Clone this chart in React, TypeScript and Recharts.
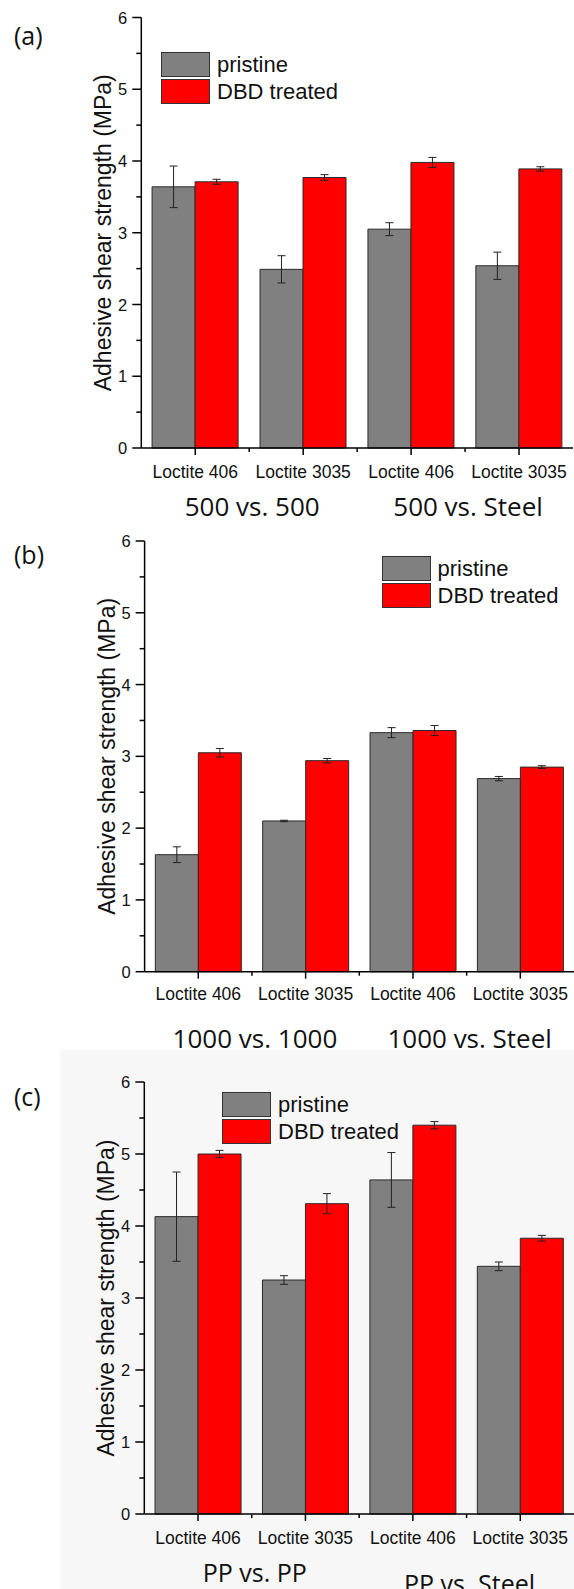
import React from "react";
import { BarChart, Bar, XAxis, YAxis, ErrorBar, Legend } from "recharts";

const categories = ["Loctite 406", "Loctite 3035", "Loctite 406", "Loctite 3035"];
const yTicks = [0, 0.5, 1, 1.5, 2, 2.5, 3, 3.5, 4, 4.5, 5, 5.5, 6];

// (a)
const groupsA = ["500 vs. 500", "500 vs. Steel"];
const pristineA = [3.64, 2.49, 3.05, 2.54];
const pristineErrA = [0.29, 0.19, 0.09, 0.19];
const treatedA = [3.71, 3.77, 3.98, 3.89];
const treatedErrA = [0.035, 0.04, 0.07, 0.03];

// (b)
const groupsB = ["1000 vs. 1000", "1000 vs. Steel"];
const pristineB = [1.63, 2.1, 3.33, 2.69];
const pristineErrB = [0.11, 0.01, 0.07, 0.03];
const treatedB = [3.05, 2.94, 3.36, 2.85];
const treatedErrB = [0.06, 0.03, 0.07, 0.02];

// (c)
const groupsC = ["PP vs. PP", "PP vs. Steel"];
const pristineC = [4.13, 3.25, 4.64, 3.44];
const pristineErrC = [0.62, 0.06, 0.38, 0.06];
const treatedC = [5.0, 4.31, 5.4, 3.83];
const treatedErrC = [0.05, 0.14, 0.05, 0.04];

const SANS = "'Liberation Sans', Arial, sans-serif";
const CAL = "'Open Sans', sans-serif";

const rows = (p: number[], pe: number[], t: number[], te: number[]) =>
  categories.map((name, i) => ({ name, pristine: p[i], pErr: pe[i], treated: t[i], tErr: te[i] }));

const YTick = (props: any) => {
  const { x, y, payload } = props;
  const major = Number.isInteger(payload.value);
  return (
    <g>
      <line x1={x} x2={x - (major ? 9 : 5)} y1={y} y2={y} stroke="#000" strokeWidth={1.5} />
      {major && (
        <text x={x - 14} y={y} textAnchor="end" dominantBaseline="central" fontSize={16.5} fontFamily={SANS} fill="#111">
          {payload.value}
        </text>
      )}
    </g>
  );
};

const makeXTick = (band: number, groups: string[], groupDy: number[], groupFont: number, tickDy: number) => (props: any) => {
  const { x, y, payload, index } = props;
  return (
    <g>
      <line x1={x} x2={x} y1={y} y2={y + 7} stroke="#000" strokeWidth={1.5} />
      {index > 0 && <line x1={x - band / 2} x2={x - band / 2} y1={y} y2={y + 4} stroke="#000" strokeWidth={1.5} />}
      <text x={x} y={y + tickDy} textAnchor="middle" fontSize={17.5} fontFamily={SANS} fill="#111">
        {payload.value}
      </text>
      {index % 2 === 0 && (
        <text x={x + band / 2 + 3} y={y + groupDy[index / 2]} textAnchor="middle" fontSize={groupFont} fontFamily={CAL} fill="#111">
          {groups[index / 2]}
        </text>
      )}
    </g>
  );
};

const LegendBox = ({ payload }: any) => (
  <div>
    {(payload || []).map((e: any) => (
      <div key={e.value} style={{ display: "flex", alignItems: "center", height: 27 }}>
        <div style={{ width: 47, height: 23, background: e.color, border: "1px solid #333", boxSizing: "content-box" }} />
        <span style={{ marginLeft: 7, fontFamily: SANS, fontSize: 22, color: "#111", lineHeight: "24px" }}>{e.value}</span>
      </div>
    ))}
  </div>
);

interface PanelProps {
  top: number;
  height: number;
  plotLeft: number;
  plotRight: number;
  plotTop: number;
  plotBottom: number;
  rightBorder: boolean;
  data: any[];
  groups: string[];
  groupDy: number[];
  groupFont: number;
  tickDy: number;
  legendLeft: number;
  legendTop: number;
}

function Panel(p: PanelProps) {
  const yAxisW = 70;
  const band = (p.plotRight - p.plotLeft) / categories.length;
  const xAxisH = p.height - p.plotBottom - 1;
  return (
    <div style={{ position: "absolute", left: 0, top: p.top, zIndex: 1 }}>
      <BarChart
        width={574}
        height={p.height}
        data={p.data}
        barCategoryGap="10%"
        barGap={0}
        margin={{ top: p.plotTop, right: 574 - p.plotRight, bottom: 1, left: p.plotLeft - yAxisW }}
        style={{ overflow: "visible" }}
      >
        <XAxis
          dataKey="name"
          interval={0}
          height={xAxisH}
          tickSize={0}
          tickMargin={0}
          tickLine={false}
          axisLine={{ stroke: "#000", strokeWidth: 1.5 }}
          tick={makeXTick(band, p.groups, p.groupDy, p.groupFont, p.tickDy)}
        />
        <XAxis xAxisId="top" orientation="top" dataKey="name" height={0} tick={false} tickLine={false} axisLine={{ stroke: "#000", strokeWidth: 1.5 }} />
        <YAxis
          type="number"
          domain={[0, 6]}
          ticks={yTicks}
          interval={0}
          width={yAxisW}
          tickSize={0}
          tickMargin={0}
          tickLine={false}
          axisLine={{ stroke: "#000", strokeWidth: 1.5 }}
          tick={YTick}
          label={{
            content: ({ viewBox }: any) => {
              const cx = viewBox.x + viewBox.width - 38;
              const cy = viewBox.y + viewBox.height / 2;
              return (
                <text
                  x={cx}
                  y={cy}
                  transform={`rotate(-90 ${cx} ${cy})`}
                  textAnchor="middle"
                  dominantBaseline="central"
                  fontSize={23}
                  fontFamily={SANS}
                  fill="#111"
                >
                  Adhesive shear strength (MPa)
                </text>
              );
            },
          }}
        />
        {p.rightBorder && (
          <YAxis yAxisId="right" orientation="right" width={0} domain={[0, 6]} tick={false} tickLine={false} axisLine={{ stroke: "#000", strokeWidth: 1.5 }} />
        )}
        <Legend
          layout="vertical"
          align="center"
          verticalAlign="middle"
          itemSorter="dataKey"
          content={LegendBox}
          wrapperStyle={{ left: p.legendLeft, top: p.legendTop, width: "auto", height: "auto" }}
        />
        <Bar dataKey="pristine" name="pristine" fill="#808080" stroke="#2a2a2a" strokeWidth={1} isAnimationActive={false}>
          <ErrorBar dataKey="pErr" direction="y" width={4} stroke="#222" strokeWidth={1} />
        </Bar>
        <Bar dataKey="treated" name="DBD treated" fill="#ff0000" stroke="#2a2a2a" strokeWidth={1} isAnimationActive={false}>
          <ErrorBar dataKey="tErr" direction="y" width={4} stroke="#222" strokeWidth={1} />
        </Bar>
      </BarChart>
    </div>
  );
}

export default function App() {
  return (
    <div style={{ position: "absolute", left: 0, top: 0, width: 574, height: 1589, background: "#fff", overflow: "hidden", zIndex: 0 }}>
      <div style={{ position: "absolute", left: 60, top: 1050, width: 514, height: 539, background: "#f7f7f7", zIndex: 0 }} />
      <Panel
        top={0}
        height={530}
        plotLeft={141.3}
        plotRight={573}
        plotTop={17.5}
        plotBottom={448}
        rightBorder={true}
        data={rows(pristineA, pristineErrA, treatedA, treatedErrA)}
        groups={groupsA}
        groupDy={[67.5, 67.5]}
        groupFont={26}
        tickDy={29.5}
        legendLeft={161}
        legendTop={51}
      />
      <Panel
        top={520}
        height={535}
        plotLeft={144.6}
        plotRight={574}
        plotTop={21}
        plotBottom={451.7}
        rightBorder={false}
        data={rows(pristineB, pristineErrB, treatedB, treatedErrB)}
        groups={groupsB}
        groupDy={[76, 76]}
        groupFont={26}
        tickDy={28.5}
        legendLeft={381.5}
        legendTop={35}
      />
      <Panel
        top={1055}
        height={534}
        plotLeft={144.3}
        plotRight={574}
        plotTop={27}
        plotBottom={459}
        rightBorder={false}
        data={rows(pristineC, pristineErrC, treatedC, treatedErrC)}
        groups={groupsC}
        groupDy={[68, 79]}
        groupFont={25}
        tickDy={30}
        legendLeft={222}
        legendTop={36}
      />
      <svg width={574} height={1589} style={{ position: "absolute", left: 0, top: 0, pointerEvents: "none", zIndex: 2 }}>
        <text x={14} y={45} fontSize={25} fontFamily={CAL} fill="#111">(a)</text>
        <text x={14} y={564} fontSize={25} fontFamily={CAL} fill="#111">(b)</text>
        <text x={14} y={1106} fontSize={25} fontFamily={CAL} fill="#111">(c)</text>
      </svg>
    </div>
  );
}
